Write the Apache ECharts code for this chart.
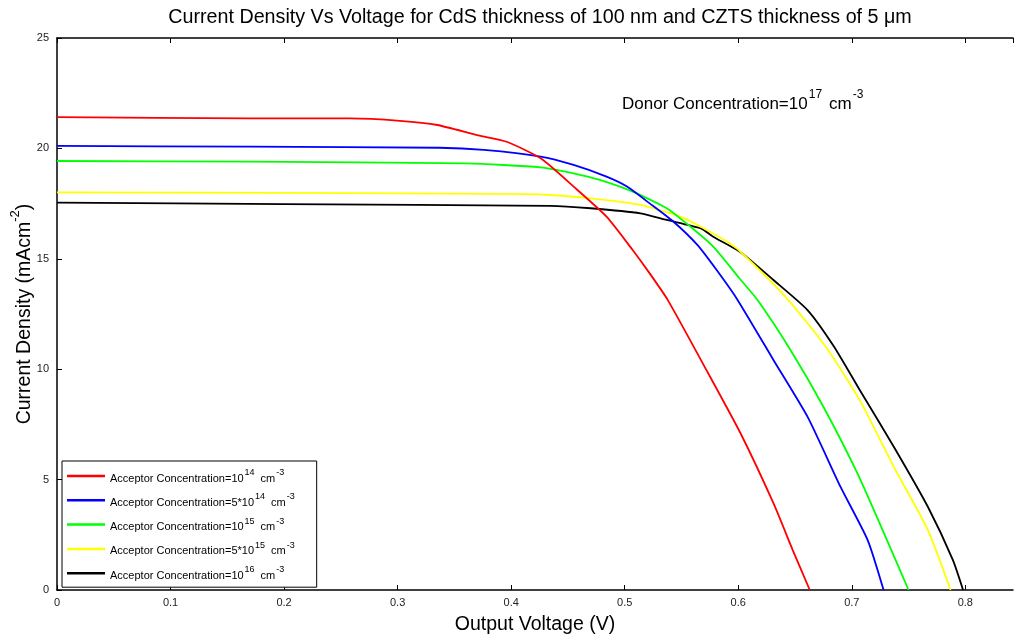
<!doctype html>
<html>
<head>
<meta charset="utf-8">
<title>J-V curves</title>
<style>
  html, body { margin: 0; padding: 0; background: #fff; }
  #main { width: 1015px; height: 641px; }
</style>
</head>
<body>
<div id="main"></div>
<script src="https://cdn.jsdelivr.net/npm/echarts@6/dist/echarts.min.js"></script>
<script>
// voltage (V) / current density (mA cm^-2)
var redV = [0, 0.17, 0.258, 0.302, 0.335, 0.37, 0.396, 0.426, 0.455, 0.484, 0.507, 0.522, 0.538, 0.572, 0.602, 0.631, 0.648, 0.663];
var redJ = [21.42, 21.36, 21.36, 21.25, 21.06, 20.6, 20.3, 19.55, 18.27, 16.91, 15.4, 14.34, 13.13, 9.96, 7.1, 3.93, 1.81, 0];

var blueV = [0, 0.17, 0.337, 0.376, 0.426, 0.455, 0.484, 0.502, 0.522, 0.543, 0.564, 0.581, 0.599, 0.631, 0.661, 0.69, 0.714, 0.728];
var blueJ = [20.11, 20.08, 20.03, 19.93, 19.63, 19.25, 18.72, 18.27, 17.51, 16.68, 15.63, 14.49, 13.17, 10.42, 7.85, 4.68, 2.26, 0];

var greenV = [0, 0.17, 0.361, 0.426, 0.455, 0.478, 0.507, 0.537, 0.558, 0.578, 0.601, 0.617, 0.646, 0.675, 0.705, 0.731, 0.75];
var greenJ = [19.43, 19.4, 19.32, 19.14, 18.87, 18.57, 18.04, 17.29, 16.45, 15.55, 14.12, 13.13, 10.87, 8.3, 5.28, 2.26, 0];

var yellowV = [0, 0.2, 0.414, 0.434, 0.47, 0.514, 0.549, 0.567, 0.59, 0.602, 0.643, 0.678, 0.707, 0.737, 0.767, 0.787];
var yellowJ = [18.01, 17.99, 17.93, 17.89, 17.74, 17.44, 16.91, 16.45, 15.78, 15.32, 13.2, 10.95, 8.6, 5.58, 2.72, 0];

var blackV = [0, 0.2, 0.434, 0.47, 0.514, 0.537, 0.567, 0.578, 0.602, 0.631, 0.661, 0.684, 0.707, 0.737, 0.767, 0.789, 0.798];
var blackJ = [17.54, 17.48, 17.4, 17.29, 17.06, 16.76, 16.38, 16.0, 15.3, 14.04, 12.68, 11.05, 9.06, 6.49, 3.77, 1.36, 0];

var seriesNames = ['A1', 'A2', 'A3', 'A4', 'A5'];
var legendExp = [
  ['', '14'],
  ['5*', '14'],
  ['', '15'],
  ['5*', '15'],
  ['', '16']
];
var seriesColors = ['#ff0000', '#0000ff', '#00ff00', '#ffff00', '#000000'];

var xTicks = [0, 0.1, 0.2, 0.3, 0.4, 0.5, 0.6, 0.7, 0.8];
var yTicks = [0, 5, 10, 15, 20, 25];

function pairs(xs, ys) {
  return xs.map(function (x, i) { return [x, ys[i]]; });
}
var allData = [pairs(redV, redJ), pairs(blueV, blueJ), pairs(greenV, greenJ), pairs(yellowV, yellowJ), pairs(blackV, blackJ)];

var FONT = 'Liberation Sans, Arial, sans-serif';

var chart = echarts.init(document.getElementById('main'), null, { renderer: 'canvas' });

var series = allData.map(function (d, i) {
  return {
    name: seriesNames[i],
    type: 'line',
    data: d,
    showSymbol: false,
    symbol: 'none',
    smooth: 0.2,
    lineStyle: { color: seriesColors[i], width: 1.8 },
    itemStyle: { color: seriesColors[i] },
    emphasis: { disabled: true },
    z: 3 + (4 - i)
  };
});

var supRich = {
  t: { fontSize: 11, fontFamily: FONT, color: '#000', lineHeight: 16, verticalAlign: 'bottom' },
  s: { fontSize: 9, fontFamily: FONT, color: '#000', lineHeight: 16, verticalAlign: 'top', padding: [0, 2, 0, 1] },
  g: { width: 4, lineHeight: 16 }
};

chart.setOption({
  backgroundColor: '#fff',
  animation: false,
  title: {
    text: 'Current Density Vs Voltage for CdS thickness of 100 nm and CZTS thickness of 5 \u03bcm',
    left: 535,
    textAlign: 'center',
    top: 3,
    textStyle: { fontFamily: FONT, fontSize: 19.7, fontWeight: 'normal', color: '#000' }
  },
  legend: {
    orient: 'vertical',
    left: 62,
    top: 461,
    padding: [7, 20, 6, 5],
    itemGap: 8.3,
    itemWidth: 38,
    itemHeight: 2.5,
    icon: 'rect',
    backgroundColor: '#fff',
    borderColor: '#000',
    borderWidth: 1,
    borderRadius: 0,
    data: seriesNames,
    formatter: function (name) {
      var i = seriesNames.indexOf(name);
      var e = legendExp[i];
      return '{t|Acceptor Concentration=' + e[0] + '10}{s|' + e[1] + '}{g|}{t|cm}{s|-3}';
    },
    textStyle: { rich: supRich, fontFamily: FONT, fontSize: 11 },
    selectedMode: false
  },
  grid: { left: 57, right: 2, top: 38, bottom: 51, containLabel: false, outerBoundsMode: 'none' },
  xAxis: [{
    type: 'value',
    min: 0,
    max: 0.842,
    interval: 0.1,
    name: 'Output Voltage (V)',
    nameLocation: 'middle',
    nameGap: 25,
    nameTextStyle: { fontFamily: FONT, fontSize: 19.5, color: '#000' },
    axisLine: { show: true, onZero: false, lineStyle: { color: '#000', width: 1.5 } },
    axisTick: { show: true, inside: true, length: 5, lineStyle: { color: '#000' } },
    axisLabel: {
      fontFamily: FONT, fontSize: 11, color: '#222', margin: 7,
      showMaxLabel: false,
      formatter: function (v) {
        var r = Math.round(v * 10) / 10;
        if (Math.abs(r - v) > 1e-6 || xTicks.indexOf(r) < 0) return '';
        return r === 0 ? '0' : String(r);
      }
    },
    splitLine: { show: false }
  }, {
    type: 'value',
    position: 'top',
    min: 0,
    max: 0.842,
    interval: 0.1,
    axisLine: { show: true, onZero: false, lineStyle: { color: '#000', width: 1.5 } },
    axisTick: { show: true, inside: true, length: 5, lineStyle: { color: '#000' } },
    axisLabel: { show: false },
    splitLine: { show: false }
  }],
  yAxis: {
    type: 'value',
    min: 0,
    max: 25,
    interval: 5,
    name: '{t|Current Density (mAcm}{s|-2}{t|)}',
    nameLocation: 'middle',
    nameGap: 22,
    nameMoveOverlap: false,
    nameTextStyle: {
      rich: {
        t: { fontFamily: FONT, fontSize: 19.5, color: '#000', lineHeight: 26, verticalAlign: 'bottom' },
        s: { fontFamily: FONT, fontSize: 13, color: '#000', lineHeight: 26, verticalAlign: 'top' }
      }
    },
    axisLine: { show: true, onZero: false, lineStyle: { color: '#000', width: 1.5 } },
    axisTick: { show: true, inside: true, length: 5, lineStyle: { color: '#000' } },
    axisLabel: {
      fontFamily: FONT, fontSize: 11, color: '#222', margin: 8,
      formatter: function (v) { return yTicks.indexOf(v) >= 0 ? String(v) : ''; }
    },
    splitLine: { show: false }
  },
  graphic: [{
    type: 'text',
    left: 622,
    top: 89,
    style: {
      text: '{t|Donor Concentration=10}{s|17}{g|}{t|cm}{s|-3}',
      rich: {
        t: { fontFamily: FONT, fontSize: 17, fill: '#000', lineHeight: 24, verticalAlign: 'bottom' },
        s: { fontFamily: FONT, fontSize: 12, fill: '#000', lineHeight: 24, verticalAlign: 'top', padding: [0, 2, 0, 1] },
        g: { width: 5, lineHeight: 24 }
      }
    }
  }],
  series: series
});

window.addEventListener('resize', function () {
  chart.resize();
});
</script>
</body>
</html>
